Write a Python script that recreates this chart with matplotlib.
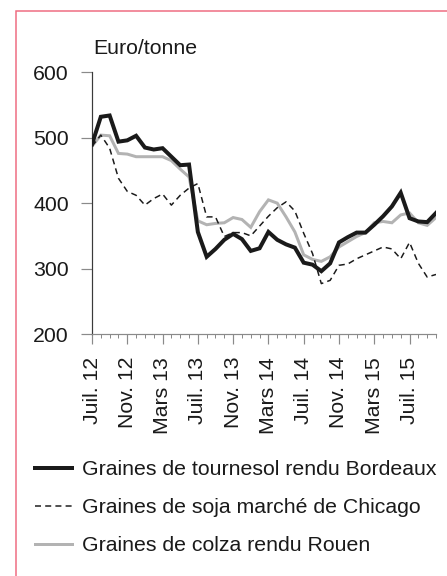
import matplotlib
matplotlib.use("Agg")
import matplotlib.pyplot as plt
from matplotlib.patches import Rectangle
from matplotlib.ticker import FixedLocator, MultipleLocator

plt.rcParams['font.family'] = ['Liberation Sans', 'DejaVu Sans']

# 40 monthly categories, Juil. 12 .. Oct. 15
months = list(range(40))
tick_positions = [0, 4, 8, 12, 16, 20, 24, 28, 32, 36]
tick_labels = ["Juil. 12", "Nov. 12", "Mars 13", "Juil. 13", "Nov. 13",
               "Mars 14", "Juil. 14", "Nov. 14", "Mars 15", "Juil. 15"]

tournesol = [490, 532, 534, 494, 496, 503, 485, 482, 484, 471,
             458, 459, 356, 318, 330, 344, 353, 345, 327, 331,
             356, 344, 337, 332, 309, 306, 296, 308, 340, 348,
             355, 355, 367, 380, 395, 416, 377, 372, 371, 385]
soja = [487, 504, 484, 438, 418, 412, 397, 407, 414, 397,
        412, 423, 430, 379, 379, 349, 355, 355, 350, 365,
        380, 393, 402, 388, 354, 323, 277, 282, 305, 307,
        315, 321, 327, 333, 330, 315, 340, 308, 287, 291]
colza = [487, 504, 503, 476, 475, 471, 471, 471, 471, 465,
         452, 440, 373, 367, 369, 370, 378, 375, 363, 387,
         405, 400, 379, 356, 321, 314, 311, 318, 333, 341,
         349, 355, 370, 372, 370, 382, 385, 370, 366, 378]

series_labels = ["Graines de tournesol rendu Bordeaux",
                 "Graines de soja marché de Chicago",
                 "Graines de colza rendu Rouen"]

W, H = 447, 576
fig = plt.figure(figsize=(W / 72, H / 72), dpi=72)
ax = fig.add_axes([92 / W, 1 - 334 / H, (436 - 92) / W, (334 - 72.3) / H])

l2, = ax.plot(months, colza, color='#b3b3b3', lw=3, solid_joinstyle='miter', zorder=2)
l1, = ax.plot(months, soja, color='#1a1a1a', lw=1.5, linestyle=(0, (4, 2.8)), zorder=3)
l0, = ax.plot(months, tournesol, color='#1a1a1a', lw=4, solid_joinstyle='miter', zorder=4)

ax.set_xlim(0, 39)
ax.set_ylim(200, 600)
ax.set_yticks([200, 300, 400, 500, 600])
ax.xaxis.set_major_locator(FixedLocator(tick_positions))
ax.set_xticklabels(tick_labels, rotation=90, fontsize=21.3)
ax.xaxis.set_minor_locator(MultipleLocator(1))

for s in ['top', 'right']:
    ax.spines[s].set_visible(False)
ax.spines['left'].set_color('#3a3a3a')
ax.spines['left'].set_linewidth(1.2)
ax.spines['bottom'].set_color('#8a8a8a')
ax.spines['bottom'].set_linewidth(1.2)

ax.tick_params(axis='y', length=11, width=1.2, color='#8a8a8a', pad=12,
               labelsize=21.3, labelcolor='#1a1a1a')
ax.tick_params(axis='x', which='major', length=10, width=1.2, color='#8a8a8a',
               pad=13, labelcolor='#1a1a1a')
ax.tick_params(axis='x', which='minor', length=4, width=1.0, color='#8a8a8a')

fig.text(93 / W, 1 - 48 / H, "Euro/tonne", fontsize=21.3, va='center', ha='left',
         color='#1a1a1a')

leg = fig.legend([l0, l1, l2], series_labels, loc='upper left',
                 bbox_to_anchor=(35 / W, 1 - 460 / H), frameon=False,
                 fontsize=21.3, handlelength=1.72, handletextpad=0.5,
                 labelspacing=0.9, borderpad=0, borderaxespad=0)
for t in leg.get_texts():
    t.set_color('#1a1a1a')

# frame
fig.patches.append(Rectangle((16 / W, -0.1), 1.2, 1 - 11 / H + 0.1,
                             transform=fig.transFigure, fill=False,
                             edgecolor='#ee6b80', lw=1.5))

fig.savefig("out.png", dpi=72)
